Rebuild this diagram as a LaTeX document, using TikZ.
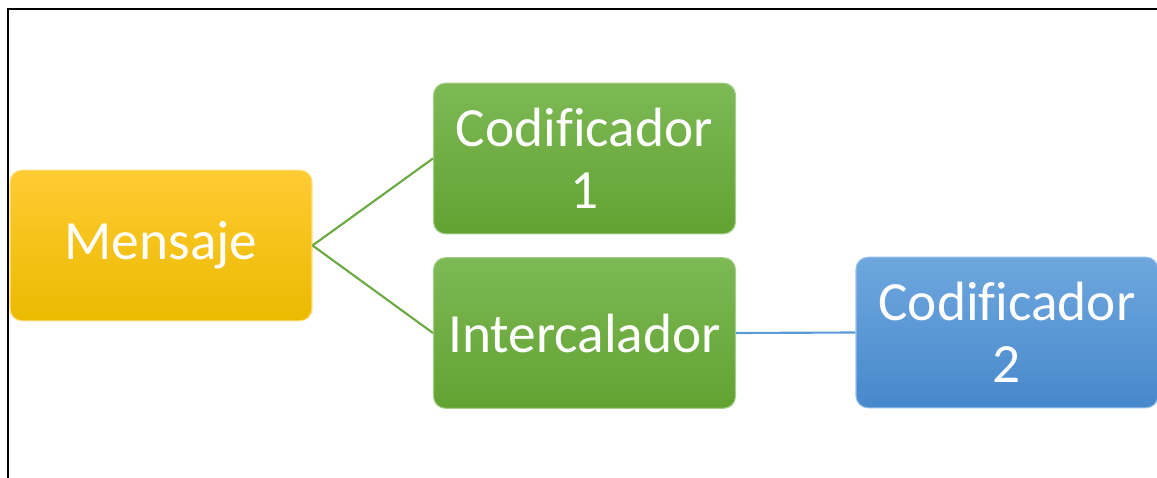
\documentclass[tikz,border=0pt]{standalone}
\usepackage{fontspec}
\setmainfont[Ligatures=NoCommon]{Carlito}
\definecolor{yelTop}{HTML}{FFCB33}
\definecolor{yelBot}{HTML}{EBBA00}
\definecolor{grnTop}{HTML}{7DB955}
\definecolor{grnBot}{HTML}{62A232}
\definecolor{bluTop}{HTML}{6EA7DE}
\definecolor{bluBot}{HTML}{4788CC}
\definecolor{grnLine}{HTML}{6AAA40}
\definecolor{bluLine}{HTML}{5B9BD5}
\tikzset{
  block/.style={rounded corners=9pt, minimum width=226.5pt, minimum height=113pt,
    text=white, align=center, inner sep=0pt,
    font=\fontsize{41.5}{46.5}\selectfont},
  yelblock/.style={block, top color=yelTop, bottom color=yelBot, draw=yelTop!60!white, line width=0.8pt},
  grnblock/.style={block, top color=grnTop, bottom color=grnBot, draw=grnTop!70!white, line width=0.8pt},
  blublock/.style={block, top color=bluTop, bottom color=bluBot, draw=bluTop!70!white, line width=0.8pt},
  link/.style={line width=1.6pt}
}
\begin{document}
\begin{tikzpicture}[x=0.75pt,y=-0.75pt]
\useasboundingbox (0,0) rectangle (1157,478);
% frame
\draw[line width=1.3pt] (8,478) -- (8,9) -- (1157,9);
% blocks
\node[yelblock] (msg) at (161,245.5) {Mensaje};
\node[grnblock] (cod1) at (584.5,158.5) {Codificador\\1};
\node[grnblock] (inter) at (584.5,333) {Intercalador};
\node[blublock] (cod2) at (1007,332.5) {Codificador\\2};
% links
\draw[link, grnLine] (msg.east) -- (cod1.west);
\draw[link, grnLine] (msg.east) -- (inter.west);
\draw[link, bluLine] (inter.east) -- (cod2.west);
\end{tikzpicture}
\end{document}
